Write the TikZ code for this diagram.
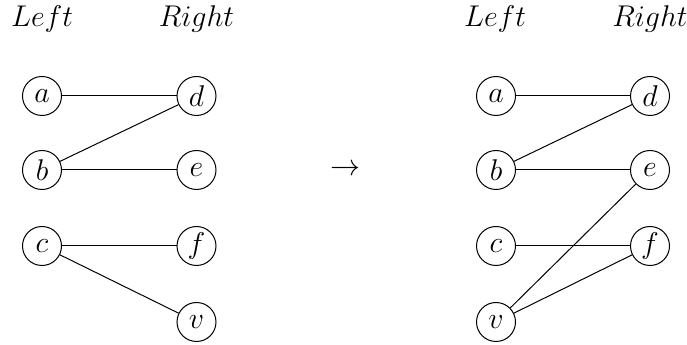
\documentclass[tikz,border=0pt]{standalone}
\begin{document}
\begin{tikzpicture}[x=0.4pt,y=-0.4pt,
  every node/.style={font=\large},
  vtx/.style={circle,draw,line width=0.4pt,minimum size=15.6pt,inner sep=0pt},
  hdr/.style={anchor=base,inner sep=0pt},
  edge/.style={line width=0.4pt}]
\useasboundingbox (0,0) rectangle (687,345);
% left graph
\node[hdr] (L1) at (42,27) {$Left$};
\node[hdr] (R1) at (196.5,27) {$Right$};
\node[vtx] (a1) at (42,96) {$a$};
\node[vtx] (b1) at (42,170) {$b$};
\node[vtx] (c1) at (42,246) {$c$};
\node[vtx] (d1) at (196.5,96) {$d$};
\node[vtx] (e1) at (196.5,170) {$e$};
\node[vtx] (f1) at (196.5,246) {$f$};
\node[vtx] (v1) at (196.5,322) {$v$};
\draw[edge] (a1) -- (d1);
\draw[edge] (b1) -- (d1);
\draw[edge] (b1) -- (e1);
\draw[edge] (c1) -- (f1);
\draw[edge] (c1) -- (v1);
% arrow
\node (arr) at (345,170) {$\rightarrow$};
% right graph
\node[hdr] (L2) at (495,27) {$Left$};
\node[hdr] (R2) at (650,27) {$Right$};
\node[vtx] (a2) at (496,96) {$a$};
\node[vtx] (b2) at (496,170) {$b$};
\node[vtx] (c2) at (496,246) {$c$};
\node[vtx] (v2) at (496,322) {$v$};
\node[vtx] (d2) at (650,96) {$d$};
\node[vtx] (e2) at (650,170) {$e$};
\node[vtx] (f2) at (650,246) {$f$};
\draw[edge] (a2) -- (d2);
\draw[edge] (b2) -- (d2);
\draw[edge] (b2) -- (e2);
\draw[edge] (c2) -- (f2);
\draw[edge] (v2) -- (e2);
\draw[edge] (v2) -- (f2);
\end{tikzpicture}
\end{document}
